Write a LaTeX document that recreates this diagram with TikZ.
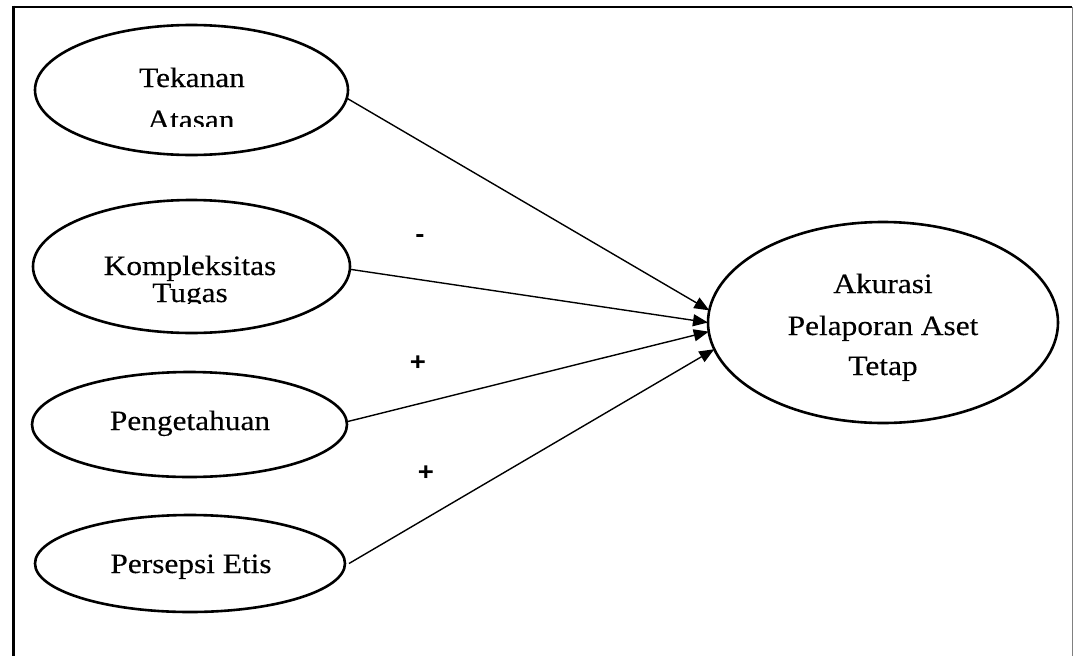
\documentclass[tikz,border=0pt]{standalone}
\usepackage{fontspec}
\setmainfont{Liberation Serif}[FakeStretch=1.12,FakeBold=0.3]
\newfontfamily\signfont{Liberation Sans}[FakeStretch=1.1]
\usetikzlibrary{shapes.geometric,arrows.meta}

\begin{document}
\begin{tikzpicture}[x=1pt,y=-1pt,
  var/.style={draw, ellipse, line width=2.6pt, inner sep=0pt, outer sep=0pt},
  lbl/.style={font=\fontsize{28}{33}\selectfont, anchor=base, inner sep=0pt},
  sign/.style={font=\signfont\bfseries\fontsize{25}{28}\selectfont, inner sep=0pt},
  link/.style={line width=1.4pt, -{Triangle[length=15pt,width=12pt]}}]

\useasboundingbox (0,0) rectangle (1073,656);

% page frame
\draw[line width=3pt] (13.5,5.5) -- (13.5,656);
\draw[line width=1.5pt] (12,7) -- (1072,7);
\draw[gray, line width=1pt] (1072,7) -- (1072,656);

% latent variables
\node[var, minimum width=313pt, minimum height=130pt] (tek) at (191.5,90) {};
\node[var, minimum width=317pt, minimum height=133pt] (kom) at (191.5,266.5) {};
\node[var, minimum width=315pt, minimum height=105pt] (pen) at (189.5,424.5) {};
\node[var, minimum width=310pt, minimum height=97pt] (per) at (190,563.5) {};
\node[var, minimum width=350pt, minimum height=201pt] (ak) at (883,322.5) {};

% labels (two of them overflow their text boxes and are cut off)
\begin{scope}
  \clip (40,20) rectangle (340,126);
  \node[lbl] (tek1) at (192,87) {Tekanan};
  \node[lbl] (tek2) at (191,129) {Atasan};
\end{scope}
\begin{scope}
  \clip (40,205) rectangle (340,303);
  \node[lbl] (kom1) at (190,275) {Kompleksitas};
  \node[lbl] (kom2) at (190,302) {Tugas};
\end{scope}
\node[lbl] (pen1) at (190,430) {Pengetahuan};
\node[lbl] (per1) at (191,573) {Persepsi Etis};
\node[lbl] (ak1) at (883,293) {Akurasi};
\node[lbl] (ak2) at (883,335) {Pelaporan Aset};
\node[lbl] (ak3) at (883,375) {Tetap};

% paths
\draw[link] (tek.-3) -- (ak.176.2);
\draw[link] (kom.-1) -- (ak.180);
\draw[link] (pen.1) -- (ak.183.4);
\draw[link] ([xshift=4pt]per.0) -- (ak.189.6);

% signs
\node[sign] (s1) at (420,239) {-};
\node[sign] (s2) at (418,363) {+};
\node[sign] (s3) at (426,473) {+};
\end{tikzpicture}
\end{document}
